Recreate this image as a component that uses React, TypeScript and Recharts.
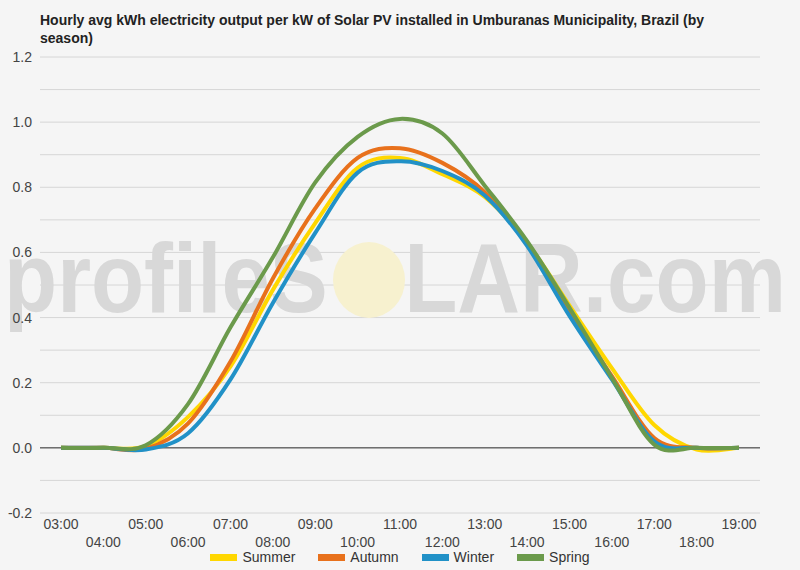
import { LineChart, Line, XAxis, YAxis, CartesianGrid, ReferenceLine, Legend, Customized } from 'recharts'

const hours = [
  '03:00', '04:00', '05:00', '06:00', '07:00', '08:00', '09:00', '10:00', '11:00',
  '12:00', '13:00', '14:00', '15:00', '16:00', '17:00', '18:00', '19:00',
]

const summer = [0, 0, 0.005, 0.095, 0.25, 0.485, 0.69, 0.86, 0.89, 0.84, 0.77, 0.63, 0.437, 0.245, 0.07, -0.005, 0]
const autumn = [0, 0, -0.003, 0.075, 0.265, 0.52, 0.735, 0.89, 0.92, 0.875, 0.785, 0.625, 0.42, 0.22, 0.03, 0, 0]
const winter = [0, 0, -0.005, 0.045, 0.21, 0.445, 0.66, 0.845, 0.88, 0.85, 0.775, 0.62, 0.405, 0.21, 0.02, 0, 0]
const spring = [0, 0, 0.008, 0.135, 0.37, 0.585, 0.815, 0.955, 1.01, 0.965, 0.805, 0.635, 0.43, 0.215, 0.01, 0, 0]

const yTicks = [-0.2, -0.1, 0, 0.1, 0.2, 0.3, 0.4, 0.5, 0.6, 0.7, 0.8, 0.9, 1.0, 1.1, 1.2]

const series = [
  { key: 'summer', name: 'Summer', color: '#ffd700', values: summer },
  { key: 'autumn', name: 'Autumn', color: '#e8711c', values: autumn },
  { key: 'winter', name: 'Winter', color: '#2191c7', values: winter },
  { key: 'spring', name: 'Spring', color: '#6b9a4b', values: spring },
]

const data = hours.map((h, i) => {
  const row: any = { hour: h }
  series.forEach((s) => { row[s.key] = s.values[i] })
  return row
})

const FONT = 'Arial, "Liberation Sans", sans-serif'

// catmull-rom style curve, close to the smooth "function" lines of the original
function smoothCurve(context: any) {
  let pts: [number, number][] = []
  return {
    areaStart() {},
    areaEnd() {},
    lineStart() { pts = [] },
    point(x: number, y: number) { pts.push([+x, +y]) },
    lineEnd() {
      if (!pts.length) return
      context.moveTo(pts[0][0], pts[0][1])
      for (let i = 0; i < pts.length - 1; i++) {
        const p0 = pts[i - 1] || pts[i]
        const p1 = pts[i]
        const p2 = pts[i + 1]
        const p3 = pts[i + 2] || p2
        context.bezierCurveTo(
          p1[0] + (p2[0] - p0[0]) / 6, p1[1] + (p2[1] - p0[1]) / 6,
          p2[0] - (p3[0] - p1[0]) / 6, p2[1] - (p3[1] - p1[1]) / 6,
          p2[0], p2[1],
        )
      }
    },
  }
}

function HourTick(props: any) {
  const { x, y, payload, index } = props
  return (
    <text x={x} y={y + (index % 2 ? 26 : 8)} textAnchor="middle" fill="#444" fontSize={14} fontFamily={FONT}>
      {payload.value}
    </text>
  )
}

function LegendRow() {
  return (
    <div style={{ display: 'flex', justifyContent: 'center', gap: 23, fontFamily: FONT, fontSize: 14, color: '#333' }}>
      {series.map((s) => (
        <div key={s.key} style={{ display: 'flex', alignItems: 'center' }}>
          <span style={{ display: 'inline-block', width: 27, height: 7, background: s.color, marginRight: 5 }} />
          <span>{s.name}</span>
        </div>
      ))}
    </div>
  )
}

// faint site watermark, over the grid but under the lines
function Watermark() {
  return (
    <g>
      <ellipse cx={369} cy={280} rx={36} ry={38} fill="#f7f1cf" />
      <g transform="translate(0 312) scale(1 1.12) translate(0 -312)">
        <text x={4} y={312} fontSize={87} fontWeight="bold" fontFamily={FONT} fill="#d8d8d8">profileS</text>
        <text x={786} y={312} fontSize={87} fontWeight="bold" fontFamily={FONT} fill="#d8d8d8" textAnchor="end">LAR.com</text>
      </g>
    </g>
  )
}

export default function App() {
  return (
    <div style={{ position: 'fixed', left: 0, top: 0, width: 800, height: 570, background: '#f5f5f5', overflow: 'hidden' }}>
      <div style={{ position: 'absolute', left: 40, top: 11, fontFamily: FONT, fontWeight: 'bold', fontSize: 14, lineHeight: '18px', color: '#222' }}>
        Hourly avg kWh electricity output per kW of Solar PV installed in Umburanas Municipality, Brazil (by
        <br />
        season)
      </div>
      <div style={{ position: 'absolute', left: 0, top: 0 }}>
        <LineChart width={800} height={570} data={data} margin={{ top: 57, right: 40, bottom: 0, left: 0 }}>
          <CartesianGrid vertical={false} stroke="#d6d6d6" />
          <Customized component={<Watermark />} />
          <XAxis
            dataKey="hour"
            interval={0}
            axisLine={false}
            tickLine={false}
            height={41}
            padding={{ left: 21, right: 21 }}
            tick={<HourTick />}
          />
          <YAxis
            domain={[-0.2, 1.2]}
            ticks={yTicks}
            interval={0}
            axisLine={false}
            tickLine={false}
            width={40}
            tick={{ fill: '#444', fontSize: 14, fontFamily: FONT }}
            tickFormatter={(v: number) => (Math.round(v * 10) % 2 === 0 ? v.toFixed(1) : '')}
          />
          <ReferenceLine y={0} stroke="#333" strokeWidth={1} />
          <Legend content={<LegendRow />} wrapperStyle={{ position: 'absolute', top: 549, left: 0, width: 800 }} />
          {series.map((s) => (
            <Line
              key={s.key}
              type={smoothCurve as any}
              dataKey={s.key}
              name={s.name}
              stroke={s.color}
              strokeWidth={4}
              dot={false}
              isAnimationActive={false}
            />
          ))}
        </LineChart>
      </div>
    </div>
  )
}
